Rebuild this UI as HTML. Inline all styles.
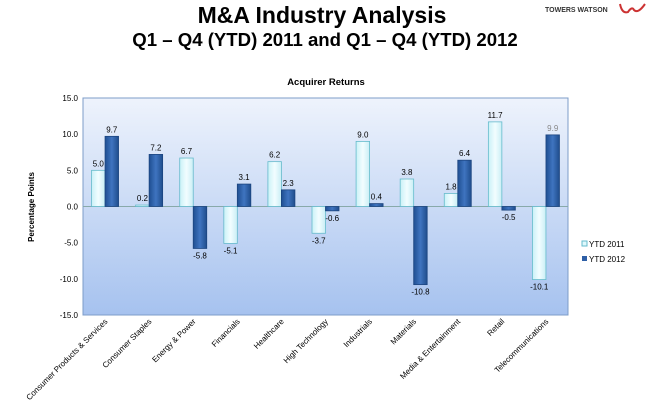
<!DOCTYPE html>
<html><head><meta charset="utf-8"><style>
body{margin:0;background:#fff;font-family:"Liberation Sans",sans-serif}
</style></head><body>
<svg id="chart" width="652" height="409" xmlns="http://www.w3.org/2000/svg" font-family="Liberation Sans, sans-serif">
<defs>
<linearGradient id="bg" x1="0" y1="0" x2="0" y2="1"><stop offset="0" stop-color="#eef3fc"/><stop offset="1" stop-color="#a6c2ef"/></linearGradient>
<linearGradient id="g11" x1="0" y1="0" x2="1" y2="0"><stop offset="0" stop-color="#c9f1f7"/><stop offset="0.5" stop-color="#f2fdff"/><stop offset="1" stop-color="#c9eef5"/></linearGradient>
<linearGradient id="g12" x1="0" y1="0" x2="1" y2="0"><stop offset="0" stop-color="#1f4f92"/><stop offset="0.5" stop-color="#3f74c0"/><stop offset="1" stop-color="#1f4d8c"/></linearGradient>
</defs>
<text x="322" y="23" text-anchor="middle" font-size="23" font-weight="bold">M&amp;A Industry Analysis</text>
<text x="325" y="46" text-anchor="middle" font-size="18.6" font-weight="bold">Q1 – Q4 (YTD) 2011 and Q1 – Q4 (YTD) 2012</text>
<text x="545" y="12" font-size="7" font-weight="bold" fill="#333">TOWERS WATSON</text>
<path d="M620 4 Q622 14 628 12 Q632 6 634 10 Q638 14 645 4" stroke="#c33" stroke-width="2" fill="none"/>
<text x="326" y="85" text-anchor="middle" font-size="9.5" font-weight="bold">Acquirer Returns</text>
<text transform="translate(34,207) rotate(-90)" text-anchor="middle" font-size="8" font-weight="bold">Percentage Points</text>
<g id="plot"></g>
<g>
<rect x="582" y="241" width="5" height="5" fill="#dff8fc" stroke="#6bc"/>
<text x="589" y="247" font-size="8">YTD 2011</text>
<rect x="582" y="256" width="5" height="5" fill="#2e5fa6"/>
<text x="589" y="262" font-size="8">YTD 2012</text>
</g>
</svg>
<script>
const categories=["Consumer Products & Services","Consumer Staples","Energy & Power","Financials","Healthcare","High Technology","Industrials","Materials","Media & Entertainment","Retail","Telecommunications"];
const ytd2011=[5.0,0.2,6.7,-5.1,6.2,-3.7,9.0,3.8,1.8,11.7,-10.1];
const ytd2012=[9.7,7.2,-5.8,3.1,2.3,-0.6,0.4,-10.8,6.4,-0.5,9.9];
const yTicks=[15,10,5,0,-5,-10,-15];
const NS="http://www.w3.org/2000/svg";
const X0=83,X1=568,Y0=98,Y1=315,VMAX=15,VMIN=-15;
const y=v=>Y0+(VMAX-v)/(VMAX-VMIN)*(Y1-Y0);
const bw=(X1-X0)/categories.length;
const xc=i=>X0+bw*(i+0.5);
const g=document.getElementById('plot');
function mk(t,a){const e=document.createElementNS(NS,t);for(const k in a)e.setAttribute(k,a[k]);g.appendChild(e);return e;}
const bg=mk('rect',{x:X0,y:Y0,width:X1-X0,height:Y1-Y0,fill:'url(#bg)',stroke:'#7d9cc8'});


yTicks.forEach(v=>{
 const t=mk('text',{x:X0-5,y:y(v)+3,'text-anchor':'end','font-size':8});
 t.textContent=v.toFixed(1);
 
 
});
const zl=mk('line',{x1:X0,x2:X1,y1:y(0),y2:y(0),stroke:'#8aa','stroke-width':1});


const w=13.5;
function bar(i,v,off,fill,stroke,series){
 const top=Math.min(y(v),y(0)),h=Math.max(Math.abs(y(v)-y(0)),1);
 const r=mk('rect',{x:xc(i)+off,y:top,width:w,height:h,fill:fill,stroke:stroke,'stroke-width':0.8});
 
 
 const ly=v>=0?y(v)-4:y(v)+10;
 const t=mk('text',{x:xc(i)+off+w/2,y:ly,'text-anchor':'middle','font-size':8,fill:(series==='2012'&&i===10)?'#888':'#000'});
 t.textContent=v.toFixed(1);
 
 
}
categories.forEach((c,i)=>{
 bar(i,ytd2011[i],-w,'url(#g11)','#6bc','2011');
 bar(i,ytd2012[i],0,'url(#g12)','#1c4580','2012');
 const t=mk('text',{transform:`translate(${xc(i)+3},${Y1+7}) rotate(-45)`,'text-anchor':'end','font-size':8});
 t.textContent=c;
 
 
});
</script>
</body></html>
